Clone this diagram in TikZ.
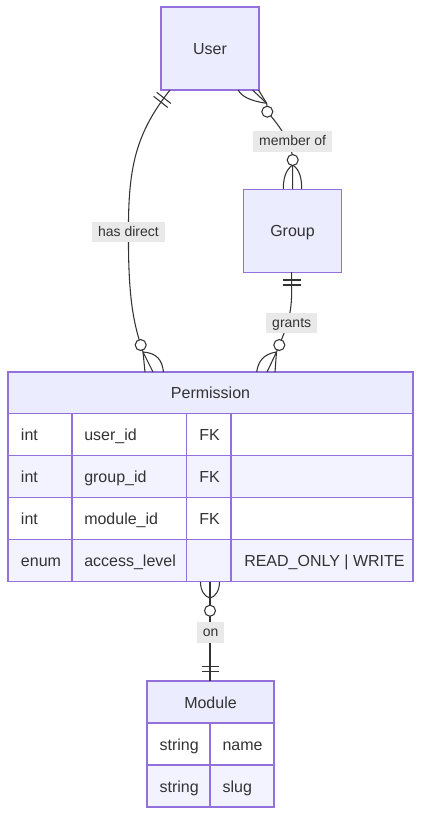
\documentclass[tikz,border=0pt]{standalone}
\usepackage{fontspec}
\setmainfont{Liberation Sans}
\definecolor{entfill}{HTML}{ECECFF}
\definecolor{entline}{HTML}{9370DB}
\definecolor{roweven}{HTML}{F3F2FF}
\definecolor{txt}{HTML}{333333}
\definecolor{lblbg}{HTML}{E9E9E9}
\definecolor{edgec}{HTML}{333333}
\begin{document}
\begin{tikzpicture}[x=0.75pt,y=-0.75pt,
  entity/.style={draw=entline, fill=entfill, line width=1pt, text=txt, font=\fontsize{12}{14}\selectfont, inner sep=0pt, text depth=0pt},
  hdrtext/.style={text=txt, font=\fontsize{12}{14}\selectfont, inner sep=0pt, anchor=base},
  celltext/.style={text=txt, font=\fontsize{12}{14}\selectfont, inner sep=0pt, anchor=base west},
  gridline/.style={draw=entline, line width=1pt},
  edgeline/.style={draw=edgec, line width=0.8pt},
  zerocirc/.style={circle, draw=edgec, fill=white, line width=0.8pt, minimum size=8.25pt, inner sep=0pt},
  lbl/.style={fill=lblbg, text=txt, font=\fontsize{10.5}{12}\selectfont, inner xsep=4.5pt, inner ysep=0pt, text height=8.5pt, text depth=2.2pt, minimum height=15.4pt}
]
\useasboundingbox (0,0) rectangle (429,829);

% ---------- entities ----------
\node[entity, minimum width=73.5pt, minimum height=62.25pt] (user) at (210,48.5) {User};
\node[entity, minimum width=73.9pt, minimum height=62.25pt] (group) at (292.5,230.8) {Group};

% ---------- Permission table ----------
\fill[entfill] (8,372) rectangle (413,413.5);
\fill[white] (8,413.5) rectangle (413,455.5);
\fill[roweven] (8,455.5) rectangle (413,497.5);
\fill[white] (8,497.5) rectangle (413,539.5);
\fill[roweven] (8,539.5) rectangle (413,581.5);
\draw[gridline] (8,372) rectangle (413,581.5);
\foreach \yy in {413.5,455.5,497.5,539.5} \draw[gridline] (8,\yy) -- (413,\yy);
\foreach \xx in {72,186.5,231} \draw[gridline] (\xx,413.5) -- (\xx,581.5);
\node[hdrtext] (perm) at (210.5,398.3) {Permission};
\node[celltext] (p1a) at (20.7,440.5) {int};
\node[celltext] (p1b) at (84,440.5) {user\_id};
\node[celltext] (p1c) at (199,440.5) {FK};
\node[celltext] (p2a) at (20.7,482.5) {int};
\node[celltext] (p2b) at (84,482.5) {group\_id};
\node[celltext] (p2c) at (199,482.5) {FK};
\node[celltext] (p3a) at (20.7,524.5) {int};
\node[celltext] (p3b) at (84,524.5) {module\_id};
\node[celltext] (p3c) at (199,524.5) {FK};
\node[celltext] (p4a) at (20.7,566.5) {enum};
\node[celltext] (p4b) at (84,566.5) {access\_level};
\node[celltext] (p4d) at (244,566.5) {READ\_ONLY | WRITE};

% ---------- Module table ----------
\fill[entfill] (147,681) rectangle (274,723);
\fill[white] (147,723) rectangle (274,765);
\fill[roweven] (147,765) rectangle (274,807);
\draw[gridline] (147,681) rectangle (274,807);
\draw[gridline] (147,723) -- (274,723);
\draw[gridline] (147,765) -- (274,765);
\draw[gridline] (210,723) -- (210,807);
\node[hdrtext] (mod) at (210.5,708) {Module};
\node[celltext] (m1a) at (159.3,750) {string};
\node[celltext] (m1b) at (222.3,750) {name};
\node[celltext] (m2a) at (159.3,792) {string};
\node[celltext] (m2b) at (222.3,792) {slug};

% ---------- coordinates ----------
\coordinate (hdS) at (170,90);
\coordinate (hdM) at (128.5,232);
\coordinate (hdA) at (143,352);
\coordinate (moA) at (266.7,103.3);
\coordinate (moM) at (292.7,141.3);
\coordinate (moB) at (292.7,165);
\coordinate (moE) at (292.7,189);
\coordinate (grS) at (291.7,272);
\coordinate (grM) at (291.7,323);
\coordinate (grA) at (276.5,352);
\coordinate (onS) at (210,582);
\coordinate (onA) at (210,598);
\coordinate (onM) at (210.7,632.3);
\coordinate (onE) at (210,681);

% ---------- has direct ----------
\draw[edgeline] (hdS) .. controls (137,132) and (128,165) .. (hdM)
  .. controls (128,300) and (134,325) .. (hdA);
\draw[edgeline] (156.7,92.3) -- (170.9,103.5);
\draw[edgeline] (153.6,96.3) -- (167.8,107.5);
\draw[edgeline] (hdA) -- (145,372);
\draw[edgeline] (hdA) -- (153,372);
\draw[edgeline] (hdA) .. controls (157,353) and (162,360) .. (163.5,372);

% ---------- member of ----------
\draw[edgeline] (moA) -- (267.3,112) .. controls (280,126) and (292.7,145) .. (292.7,160) -- (moB) -- (moE);
\draw[edgeline] (moA) -- (252.5,90);
\draw[edgeline] (moA) -- (258.5,90);
\draw[edgeline] (moA) .. controls (250,101) and (241,96) .. (238.3,90);
\draw[edgeline] (moB) .. controls (285,170) and (283.3,180) .. (283.3,189);
\draw[edgeline] (moB) .. controls (300.4,170) and (301.7,180) .. (301.7,189);

% ---------- grants ----------
\draw[edgeline] (grS) -- (291.7,292) .. controls (291.7,318) and (284,333) .. (279.3,345) -- (grA);
\draw[edgeline] (283,280) -- (300.5,280);
\draw[edgeline] (283,285) -- (300.5,285);
\draw[edgeline] (grA) -- (275,372);
\draw[edgeline] (grA) -- (267,372);
\draw[edgeline] (grA) .. controls (263,354) and (258,362) .. (256.7,372);

% ---------- on ----------
\draw[edgeline] (onS) -- (onE);
\draw[edgeline] (200.5,582) .. controls (200.5,591) and (205,597) .. (onA);
\draw[edgeline] (219.5,582) .. controls (219.5,591) and (215,597) .. (onA);
\draw[edgeline] (201.7,666.3) -- (219.3,666.3);
\draw[edgeline] (201.7,671.3) -- (219.3,671.3);

% ---------- zero circles ----------
\node[zerocirc] (hdC) at (140.7,345) {};
\node[zerocirc] (moC1) at (267.3,111.7) {};
\node[zerocirc] (moC2) at (292.7,160) {};
\node[zerocirc] (grC) at (279.3,345) {};
\node[zerocirc] (onC) at (210,610.7) {};

% ---------- labels ----------
\node[lbl] (hdL) at (hdM) {has direct};
\node[lbl] (moL) at (moM) {member of};
\node[lbl] (grL) at (grM) {grants};
\node[lbl] (onL) at (onM) {on};
\end{tikzpicture}
\end{document}
